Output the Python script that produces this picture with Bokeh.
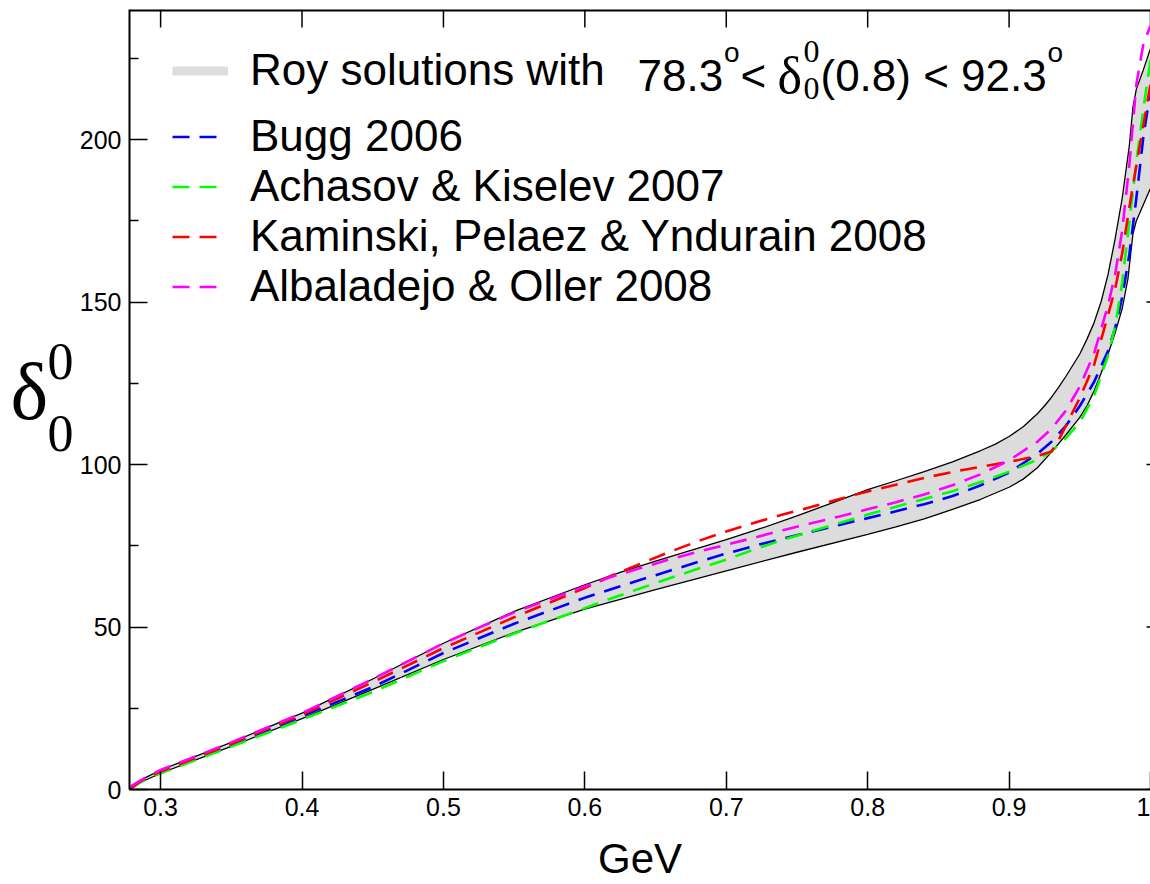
import numpy as np
from bokeh.plotting import figure
from bokeh.layouts import row
from bokeh.models import (Range1d, FixedTicker, Legend, LegendItem,
                          Label, CustomJSTickFormatter)
from bokeh.core.properties import value
from bokeh.embed import file_html
from bokeh.resources import INLINE

# ---------------- data ----------------
x_ticks = [0.3, 0.4, 0.5, 0.6, 0.7, 0.8, 0.9, 1.0]
y_ticks = [0, 50, 100, 150, 200]
y_minor_ticks = [25, 75, 125, 175, 225]

roy_upper_x = [0.279, 0.285, 0.29, 0.30, 0.35, 0.40, 0.45, 0.50, 0.55, 0.60, 0.625, 0.65,
               0.675, 0.70, 0.725, 0.75, 0.775, 0.80, 0.82, 0.84, 0.86, 0.88, 0.89, 0.90,
               0.91, 0.92, 0.925, 0.93, 0.935, 0.94, 0.95, 0.955, 0.96, 0.965, 0.97, 0.975,
               0.98, 0.985, 0.9876, 0.99, 0.995, 1.0]
roy_upper_y = [1.0, 2.6, 3.8, 6.0, 14.5, 23.5, 34.0, 45.0, 54.8, 63.0, 66.8, 70.3,
               73.6, 76.9, 80.4, 84.2, 88.2, 92.3, 95.0, 97.8, 100.8, 104.3, 106.2, 108.6,
               111.6, 115.6, 118.0, 120.7, 123.7, 127.0, 134.0, 138.5, 143.5, 150.0, 158.5,
               169.5, 182.0, 198.0, 210.0, 215.5, 221.5, 228.0]

roy_lower_x = [0.279, 0.285, 0.29, 0.30, 0.35, 0.40, 0.45, 0.50, 0.55, 0.60, 0.65, 0.70,
               0.75, 0.80, 0.82, 0.84, 0.86, 0.88, 0.90, 0.91, 0.92, 0.93, 0.94, 0.95,
               0.955, 0.96, 0.965, 0.97, 0.975, 0.98, 0.984, 0.9876, 0.99, 0.995, 1.0]
roy_lower_y = [0.3, 2.0, 3.0, 5.0, 13.3, 21.8, 30.8, 40.0, 48.3, 55.5, 61.5, 67.3,
               73.0, 78.5, 80.8, 83.3, 86.2, 89.3, 93.0, 95.5, 99.0, 103.8, 109.0, 114.5,
               118.0, 122.5, 128.0, 134.0, 140.5, 148.0, 157.0, 171.0, 175.0, 180.0, 185.0]

bugg_x = [0.279, 0.285, 0.29, 0.30, 0.35, 0.40, 0.45, 0.50, 0.55, 0.60, 0.64, 0.66, 0.68,
          0.70, 0.72, 0.74, 0.76, 0.78, 0.80, 0.82, 0.84, 0.86, 0.88, 0.90, 0.92, 0.93,
          0.94, 0.95, 0.96, 0.97, 0.975, 0.98, 0.985, 0.99, 0.995, 1.0]
bugg_y = [0.5, 2.3, 3.6, 5.5, 13.8, 22.5, 31.5, 42.0, 51.0, 59.0, 64.6, 67.3, 70.0,
          72.6, 75.0, 77.2, 79.3, 81.4, 83.5, 85.6, 87.8, 90.3, 93.6, 97.5, 103.3, 107.0,
          111.8, 118.0, 125.3, 135.0, 142.0, 151.5, 164.5, 182.0, 201.0, 215.0]

achasov_x = [0.279, 0.285, 0.29, 0.30, 0.35, 0.40, 0.45, 0.50, 0.55, 0.60, 0.62, 0.64,
             0.66, 0.68, 0.70, 0.72, 0.74, 0.76, 0.78, 0.80, 0.82, 0.84, 0.86, 0.88,
             0.90, 0.92, 0.93, 0.94, 0.95, 0.96, 0.97, 0.975, 0.98, 0.985, 0.99, 0.995, 1.0]
achasov_y = [0.3, 2.0, 3.2, 5.0, 13.2, 21.5, 30.0, 39.5, 48.0, 55.8, 59.0, 62.0,
             65.0, 67.9, 70.7, 73.9, 76.8, 79.4, 82.0, 84.6, 87.0, 89.4, 91.8, 94.6,
             97.8, 101.5, 104.0, 108.0, 113.0, 121.0, 133.5, 142.5, 156.0, 174.5, 193.0,
             209.5, 224.5]

kpy_x = [0.279, 0.285, 0.29, 0.30, 0.35, 0.40, 0.45, 0.50, 0.55, 0.60, 0.62, 0.64, 0.66,
         0.68, 0.70, 0.72, 0.74, 0.76, 0.78, 0.80, 0.82, 0.84, 0.86, 0.88, 0.90, 0.92,
         0.93, 0.935, 0.94, 0.95, 0.96, 0.97, 0.975, 0.98, 0.985, 0.99, 0.995, 1.0]
kpy_y = [0.3, 2.3, 3.6, 5.5, 14.0, 23.0, 33.0, 43.5, 53.0, 62.0, 66.0, 69.6, 73.1,
         76.4, 79.4, 82.1, 84.6, 86.9, 89.4, 91.7, 93.8, 95.9, 97.7, 99.3, 100.8, 102.6,
         104.0, 107.5, 111.8, 120.5, 130.5, 146.0, 154.0, 165.0, 179.0, 192.0, 204.5, 217.0]

ao_x = [0.279, 0.285, 0.29, 0.30, 0.35, 0.40, 0.45, 0.50, 0.55, 0.60, 0.62, 0.64, 0.66,
        0.68, 0.70, 0.72, 0.74, 0.76, 0.78, 0.80, 0.82, 0.84, 0.86, 0.88, 0.90, 0.92,
        0.93, 0.94, 0.95, 0.96, 0.97, 0.975, 0.98, 0.985, 0.99, 0.995, 1.0]
ao_y = [1.0, 2.6, 3.8, 6.0, 14.5, 23.5, 34.0, 45.0, 54.5, 62.5, 65.6, 68.2, 70.8,
        73.2, 75.3, 77.5, 79.8, 81.9, 84.0, 86.2, 88.4, 90.8, 93.6, 97.0, 101.3, 107.0,
        111.0, 116.5, 124.0, 134.0, 149.0, 158.5, 172.0, 192.0, 217.0, 229.5, 235.0]

series_labels = ["Bugg 2006", "Achasov & Kiselev 2007",
                 "Kaminski, Pelaez & Yndurain 2008", "Albaladejo & Oller 2008"]
series_colors = ["#0000ff", "#00ff00", "#ff0000", "#ff00ff"]

# y-axis title pieces: δ with sub- and superscript 0
ytitle_text = ["δ", "0", "0"]

# ---------------- layout ----------------
TOTAL_W, H = 1150, 884
LW = 75                           # width of the strip holding the y-axis title
W = TOTAL_W - LW
X0, X1 = 0.278, 1.0
Y0, Y1 = 0.0, 240.0
FL_PIC, BT = 129, 9               # frame left / top in picture pixels
BL = FL_PIC - LW
FRAME_W = W - BL
FRAME_H = 780
BB = H - BT - FRAME_H
FB = BT + FRAME_H
XS = FRAME_W / (X1 - X0)           # pixels per GeV
YS = FRAME_H / (Y1 - Y0)           # pixels per degree


def dx(px):
    return X0 + (px - FL_PIC) / XS


def dy(py):
    return Y0 + (FB - py) / YS


p = figure(width=W, height=H, x_range=Range1d(X0, X1), y_range=Range1d(Y0, Y1),
           output_backend="svg", toolbar_location=None,
           min_border_left=BL, min_border_right=0, min_border_top=BT, min_border_bottom=BB)
p.outline_line_color = None
p.xgrid.grid_line_color = None
p.ygrid.grid_line_color = None
p.background_fill_color = "white"

SANS = "Liberation Sans"
SERIF = "Liberation Serif"

xa = p.xaxis[0]
xa.ticker = FixedTicker(ticks=x_ticks, minor_ticks=[])
xa.formatter = CustomJSTickFormatter(code="return tick == 1 ? '1' : tick.toFixed(1);")
xa.axis_label = "GeV"
xa.axis_label_text_font = SANS
xa.axis_label_text_font_size = "42px"
xa.axis_label_text_font_style = "normal"
xa.axis_label_text_color = "black"
xa.axis_label_text_line_height = 0.8
xa.axis_label_standoff = 16
ya = p.yaxis[0]
ya.ticker = FixedTicker(ticks=y_ticks, minor_ticks=y_minor_ticks)

for ax in (xa, ya):
    ax.axis_line_width = 2
    ax.axis_line_color = "black"
    ax.major_tick_in = 18
    ax.major_tick_out = 0
    ax.minor_tick_in = 9
    ax.minor_tick_out = 0
    ax.major_tick_line_width = 1.5
    ax.minor_tick_line_width = 1.5
    ax.major_tick_line_color = "black"
    ax.minor_tick_line_color = "black"
    ax.major_label_text_font = SANS
    ax.major_label_text_font_size = "25px"
    ax.major_label_text_color = "black"
    ax.major_label_standoff = 8

# top frame line with inward ticks, and the tips of the right-hand ticks
n_x = len(x_ticks)
p.segment(x0=[X0], y0=[Y1], x1=[X1], y1=[Y1], line_color="black", line_width=4)
p.segment(x0=x_ticks, y0=[Y1] * n_x, x1=x_ticks, y1=[Y1 - 18 / YS] * n_x,
          line_color="black", line_width=1.5)
n_y = len(y_ticks)
p.segment(x0=[X1 - 4 / XS] * n_y, y0=y_ticks, x1=[X1] * n_y, y1=y_ticks,
          line_color="black", line_width=1.5)

# ---------------- Roy band ----------------
band_x = np.concatenate([roy_upper_x, roy_lower_x[::-1]])
band_y = np.concatenate([roy_upper_y, roy_lower_y[::-1]])
p.patch(band_x, band_y, fill_color="#dcdcdc", line_color=None)
p.line(roy_upper_x, roy_upper_y, line_color="black", line_width=1.3)
p.line(roy_lower_x, roy_lower_y, line_color="black", line_width=1.3)

# ---------------- model curves ----------------
renderers = []
for xs, ys, c in zip([bugg_x, achasov_x, kpy_x, ao_x],
                     [bugg_y, achasov_y, kpy_y, ao_y], series_colors):
    r = p.line(xs, ys, line_color=c, line_width=2.6, line_dash="17 10")
    renderers.append(r)

# legend sample for the band: thick grey line (not drawn in the plot itself)
roy_leg = p.line(roy_lower_x, roy_lower_y, line_color="#dddddd", line_width=9, visible=False)

leg_common = dict(padding=0, margin=0, spacing=0, border_line_color=None,
                  background_fill_alpha=0, label_text_font=SANS,
                  label_text_font_size="44px", label_text_color="black",
                  label_height=49, glyph_height=49, inactive_fill_alpha=0)
leg1 = Legend(items=[LegendItem(label="Roy solutions with", renderers=[roy_leg])],
              location=(43, 694), glyph_width=56, label_standoff=22, **leg_common)
leg2 = Legend(items=[LegendItem(label=l, renderers=[r]) for l, r in zip(series_labels, renderers)],
              location=(43, 478), glyph_width=48, label_standoff=30, **leg_common)
p.add_layout(leg1)
p.add_layout(leg2)


def lab(px, py, text, font, size, align="left"):
    p.add_layout(Label(x=dx(px), y=dy(py), x_units="data", y_units="data", text=text,
                       text_font=font, text_font_size=f"{size}px", text_color="black",
                       text_align=align, text_baseline="alphabetic"))


# rest of the band legend entry: 78.3° < δ₀⁰(0.8) < 92.3°
BASE = 75
lab(637, BASE, "78.3", SANS, 44)
lab(723.6, BASE - 23, "o", SANS, 28)
lab(740, BASE, "<", SANS, 44)
lab(777, BASE, "δ", SERIF, 52)
lab(803, BASE - 24, "0", SERIF, 32)
lab(803, BASE + 13, "0", SERIF, 32)
lab(820, BASE, "(0.8) < 92.3", SANS, 44)
lab(1047, BASE - 23, "o", SANS, 28)

# ---------------- strip with the y-axis title ----------------
t = figure(width=LW, height=H, x_range=Range1d(0, LW), y_range=Range1d(0, H),
           output_backend="svg", toolbar_location=None, min_border=0,
           x_axis_location=None, y_axis_location=None)
t.outline_line_color = None
t.xgrid.grid_line_color = None
t.ygrid.grid_line_color = None
t.text(x=[10, 47, 47], y=[H - 434, H - 399, H - 480], text=ytitle_text,
       text_font=value(SERIF), text_font_size=["80px", "52px", "52px"],
       text_color="black", text_align="left", text_baseline="alphabetic")

layout = row(t, p, spacing=0)
open("out.html", "w").write(file_html(layout, INLINE))
